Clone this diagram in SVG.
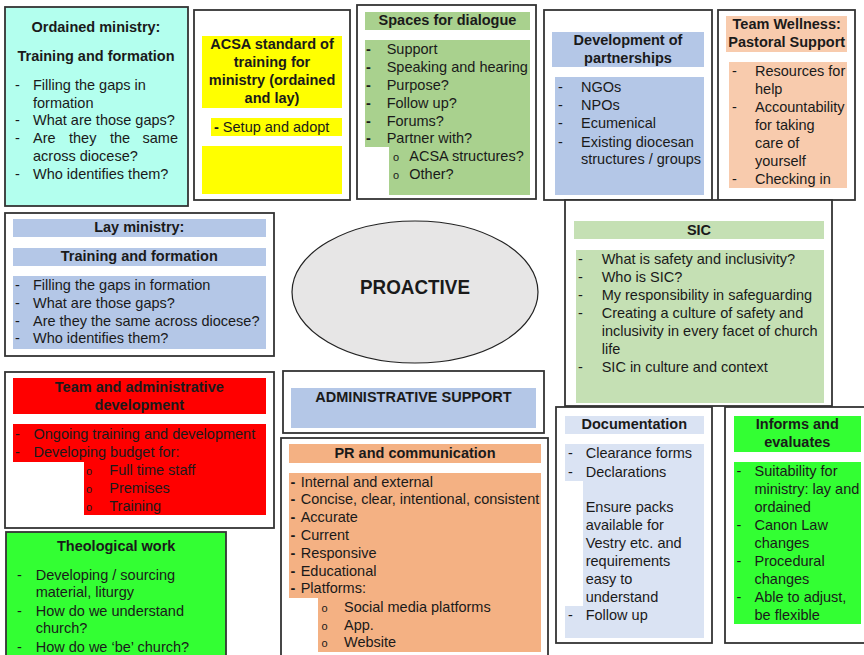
<svg xmlns="http://www.w3.org/2000/svg" width="864" height="655" viewBox="0 0 864 655">
<style>
.box{fill:#fff;stroke:#333;stroke-width:1.8}
.t{font-family:"Liberation Sans",Arial,sans-serif;font-size:14.5px;fill:#1a1a1a}
.b{font-weight:bold}
.c{text-anchor:middle}
.o{font-size:11px}
</style>
<rect width="864" height="655" fill="#fff"/>

<g id="ordained">
<rect class="box" x="5" y="7" width="183" height="199" fill="#b3ffee" style="fill:#b3ffee"/>
<text class="t b c" x="96" y="32">Ordained ministry:</text>
<text class="t b c" x="96" y="60.5">Training and formation</text>
<g class="t">
<text x="15" y="90">-</text><text x="33" y="90">Filling the gaps in</text>
<text x="33" y="107.7">formation</text>
<text x="15" y="125.4">-</text><text x="33" y="125.4">What are those gaps?</text>
<text x="15" y="143.1">-</text><text x="33" y="143.1">Are</text><text x="69" y="143.1">they</text><text x="110" y="143.1">the</text><text x="178" y="143.1" text-anchor="end">same</text>
<text x="33" y="160.8">across diocese?</text>
<text x="15" y="178.5">-</text><text x="33" y="178.5">Who identifies them?</text>
</g>
</g>

<g id="acsa">
<rect class="box" x="194" y="10" width="156" height="190"/>
<rect x="202" y="36" width="140" height="72" fill="#ffff00"/>
<rect x="211" y="118" width="131" height="18" fill="#ffff00"/>
<rect x="202" y="146" width="140" height="48" fill="#ffff00"/>
<text class="t b c" x="272" y="48.5">ACSA standard of</text>
<text class="t b c" x="272" y="66.8">training for</text>
<text class="t b c" x="272" y="85.1">ministry (ordained</text>
<text class="t b c" x="272" y="103.4">and lay)</text>
<text class="t" x="214" y="131.7"><tspan font-weight="bold">-</tspan> Setup and adopt</text>
</g>

<g id="spaces">
<rect class="box" x="357" y="5" width="179" height="194"/>
<rect x="365" y="12" width="165" height="18" fill="#a9d18e"/>
<path d="M365 40H530V195H389V147H365Z" fill="#a9d18e"/>
<text class="t b c" x="447.5" y="25">Spaces for dialogue</text>
<g class="t">
<text class="b" x="366" y="54.3">-</text><text x="386.7" y="54.3">Support</text>
<text class="b" x="366" y="72.1">-</text><text x="386.7" y="72.1">Speaking and hearing</text>
<text class="b" x="366" y="89.9">-</text><text x="386.7" y="89.9">Purpose?</text>
<text class="b" x="366" y="107.7">-</text><text x="386.7" y="107.7">Follow up?</text>
<text class="b" x="366" y="125.5">-</text><text x="386.7" y="125.5">Forums?</text>
<text class="b" x="366" y="143.3">-</text><text x="386.7" y="143.3">Partner with?</text>
<text class="o" x="393" y="161.1">o</text><text x="409.3" y="161.1">ACSA structures?</text>
<text class="o" x="393" y="178.9">o</text><text x="409.3" y="178.9">Other?</text>
</g>
</g>

<g id="partnerships">
<rect class="box" x="544" y="10" width="168" height="190"/>
<rect x="552" y="32" width="152" height="35" fill="#b4c7e7"/>
<rect x="555" y="77" width="149" height="118" fill="#b4c7e7"/>
<text class="t b c" x="628" y="45">Development of</text>
<text class="t b c" x="628" y="63.3">partnerships</text>
<g class="t">
<text x="558" y="91.7">-</text><text x="581" y="91.7">NGOs</text>
<text x="558" y="110">-</text><text x="581" y="110">NPOs</text>
<text x="558" y="128.3">-</text><text x="581" y="128.3">Ecumenical</text>
<text x="558" y="146.7">-</text><text x="581" y="146.7">Existing diocesan</text>
<text x="581" y="164.3">structures / groups</text>
</g>
</g>

<g id="wellness">
<rect class="box" x="718" y="10" width="137" height="190"/>
<rect x="726" y="16" width="121" height="36" fill="#f8cbad"/>
<rect x="729" y="62" width="118" height="126" fill="#f8cbad"/>
<text class="t b c" x="786.7" y="29">Team Wellness:</text>
<text class="t b c" x="786.7" y="47.3">Pastoral Support</text>
<g class="t">
<text x="732" y="76">-</text><text x="755" y="76">Resources for</text>
<text x="755" y="93.7">help</text>
<text x="732" y="112">-</text><text x="755" y="112">Accountability</text>
<text x="755" y="130">for taking</text>
<text x="755" y="147.8">care of</text>
<text x="755" y="165.7">yourself</text>
<text x="732" y="184">-</text><text x="755" y="184">Checking in</text>
</g>
</g>

<g id="lay">
<rect class="box" x="5" y="213" width="269" height="143"/>
<rect x="13" y="219" width="253" height="18" fill="#b4c7e7"/>
<rect x="13" y="248" width="253" height="18" fill="#b4c7e7"/>
<rect x="13" y="276" width="253" height="73" fill="#b4c7e7"/>
<text class="t b c" x="139.3" y="232.3">Lay ministry:</text>
<text class="t b c" x="139.3" y="260.7">Training and formation</text>
<g class="t">
<text x="15" y="290">-</text><text x="33" y="290">Filling the gaps in formation</text>
<text x="15" y="307.8">-</text><text x="33" y="307.8">What are those gaps?</text>
<text x="15" y="325.6">-</text><text x="33" y="325.6">Are they the same across diocese?</text>
<text x="15" y="343.4">-</text><text x="33" y="343.4">Who identifies them?</text>
</g>
</g>

<g id="proactive">
<ellipse cx="415" cy="292" rx="123" ry="71" fill="#e7e6e6" stroke="#222" stroke-width="1.2"/>
<text class="t b c" x="415" y="294" style="font-size:20px" textLength="110" lengthAdjust="spacingAndGlyphs">PROACTIVE</text>
</g>

<g id="sic">
<rect class="box" x="565" y="200" width="267" height="206"/>
<rect x="574" y="221" width="250" height="18" fill="#c5e0b4"/>
<rect x="576" y="250" width="248" height="153" fill="#c5e0b4"/>
<text class="t b c" x="699" y="235">SIC</text>
<g class="t">
<text x="578" y="264">-</text><text x="601.7" y="264">What is safety and inclusivity?</text>
<text x="578" y="281.8">-</text><text x="601.7" y="281.8">Who is SIC?</text>
<text x="578" y="299.8">-</text><text x="601.7" y="299.8">My responsibility in safeguarding</text>
<text x="578" y="317.7">-</text><text x="601.7" y="317.7">Creating a culture of safety and</text>
<text x="601.7" y="335.7">inclusivity in every facet of church</text>
<text x="601.7" y="353.5">life</text>
<text x="578" y="372">-</text><text x="601.7" y="372">SIC in culture and context</text>
</g>
</g>

<g id="team-admin">
<rect class="box" x="5" y="372" width="269" height="156"/>
<rect x="13" y="378" width="253" height="36" fill="#ff0000"/>
<path d="M13 424H266V515H84V462H13Z" fill="#ff0000"/>
<text class="t b c" x="139.3" y="391.7">Team and administrative</text>
<text class="t b c" x="139.3" y="410">development</text>
<g class="t">
<text x="15" y="439">-</text><text x="33.5" y="439">Ongoing training and development</text>
<text x="15" y="457">-</text><text x="33.5" y="457">Developing budget for:</text>
<text class="o" x="86" y="475">o</text><text x="109.3" y="475">Full time staff</text>
<text class="o" x="86" y="492.7">o</text><text x="109.3" y="492.7">Premises</text>
<text class="o" x="86" y="510.5">o</text><text x="109.3" y="510.5">Training</text>
</g>
</g>

<g id="admin-support">
<rect class="box" x="283" y="371" width="261" height="62"/>
<rect x="291" y="388" width="245" height="40" fill="#b4c7e7"/>
<text class="t b c" x="413.5" y="401.7">ADMINISTRATIVE SUPPORT</text>
</g>

<g id="pr">
<rect class="box" x="281" y="438" width="267" height="225"/>
<rect x="289" y="444" width="252" height="19" fill="#f4b183"/>
<path d="M289 473H541V652H318V598H289Z" fill="#f4b183"/>
<text class="t b c" x="415" y="457.7">PR and communication</text>
<g class="t">
<text class="b" x="290.5" y="486.7">-</text><text x="300.7" y="486.7">Internal and external</text>
<text class="b" x="290.5" y="504.4">-</text><text x="300.7" y="504.4">Concise, clear, intentional, consistent</text>
<text class="b" x="290.5" y="522.3">-</text><text x="300.7" y="522.3">Accurate</text>
<text class="b" x="290.5" y="540">-</text><text x="300.7" y="540">Current</text>
<text class="b" x="290.5" y="557.8">-</text><text x="300.7" y="557.8">Responsive</text>
<text class="b" x="290.5" y="575.7">-</text><text x="300.7" y="575.7">Educational</text>
<text class="b" x="290.5" y="593.4">-</text><text x="300.7" y="593.4">Platforms:</text>
<text class="o" x="321.5" y="611.7">o</text><text x="344" y="611.7">Social media platforms</text>
<text class="o" x="321.5" y="630">o</text><text x="344" y="630">App.</text>
<text class="o" x="321.5" y="647.4">o</text><text x="344" y="647.4">Website</text>
</g>
</g>

<g id="documentation">
<rect class="box" x="556" y="407" width="156" height="236"/>
<rect x="565" y="416" width="139" height="18" fill="#dae3f3"/>
<path d="M565 444H704V638H565V606H583V481H565Z" fill="#dae3f3"/>
<text class="t b c" x="634.3" y="429.3">Documentation</text>
<g class="t">
<text x="568" y="458.3">-</text><text x="585.7" y="458.3">Clearance forms</text>
<text x="568" y="476.5">-</text><text x="585.7" y="476.5">Declarations</text>
<text x="585.7" y="512.3">Ensure packs</text>
<text x="585.7" y="530">available for</text>
<text x="585.7" y="547.8">Vestry etc. and</text>
<text x="585.7" y="566">requirements</text>
<text x="585.7" y="584">easy to</text>
<text x="585.7" y="601.8">understand</text>
<text x="568" y="620">-</text><text x="585.7" y="620">Follow up</text>
</g>
</g>

<g id="informs">
<rect class="box" x="725" y="407" width="142" height="236"/>
<rect x="734" y="416" width="127" height="36" fill="#33ff33"/>
<rect x="734" y="462" width="127" height="162" fill="#33ff33"/>
<text class="t b c" x="797.3" y="429">Informs and</text>
<text class="t b c" x="797.3" y="447.3">evaluates</text>
<g class="t">
<text x="736.5" y="476">-</text><text x="754.5" y="476">Suitability for</text>
<text x="754.5" y="494">ministry: lay and</text>
<text x="754.5" y="511.8">ordained</text>
<text x="736.5" y="530">-</text><text x="754.5" y="530">Canon Law</text>
<text x="754.5" y="548.3">changes</text>
<text x="736.5" y="566">-</text><text x="754.5" y="566">Procedural</text>
<text x="754.5" y="584">changes</text>
<text x="736.5" y="602.3">-</text><text x="754.5" y="602.3">Able to adjust,</text>
<text x="754.5" y="620">be flexible</text>
</g>
</g>

<g id="theological">
<rect class="box" x="6" y="532" width="220" height="130" style="fill:#33ff33"/>
<text class="t b c" x="116.2" y="551">Theological work</text>
<g class="t">
<text x="17" y="580">-</text><text x="35.7" y="580">Developing / sourcing</text>
<text x="35.7" y="597.4">material, liturgy</text>
<text x="17" y="615.7">-</text><text x="35.7" y="615.7">How do we understand</text>
<text x="35.7" y="633.4">church?</text>
<text x="17" y="651.7">-</text><text x="35.7" y="651.7">How do we ‘be’ church?</text>
</g>
</g>

<g id="connectors"/>
</svg>
